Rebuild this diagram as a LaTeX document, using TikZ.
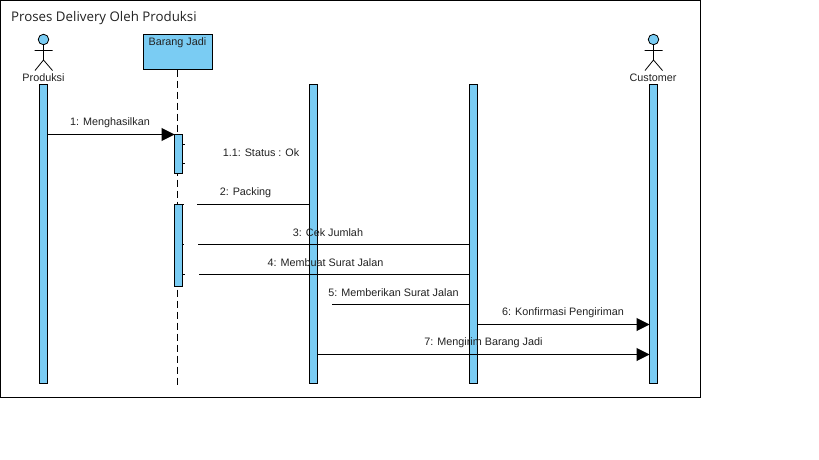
\documentclass[tikz,border=0pt]{standalone}
\usepackage{fontspec}
\setmainfont{Liberation Sans}
\newfontfamily\titlefont{Open Sans}
\usetikzlibrary{arrows.meta}
\definecolor{barblue}{HTML}{7ACCF3}
\definecolor{inkdark}{HTML}{222222}
\tikzset{
  x=1pt,y=-1pt,
  barbox/.style={draw=black,fill=barblue,line width=1pt,rectangle,minimum width=8pt,outer sep=0pt,inner sep=0pt},
  headbox/.style={draw=black,fill=barblue,line width=1pt,rectangle,minimum width=68.5pt,minimum height=35pt,outer sep=0pt,inner sep=0pt},
  lbl/.style={font=\fontsize{10.8}{12}\selectfont,text=inkdark,inner sep=0pt},
  msg/.style={line width=1pt,draw=black},
  msgarrow/.style={msg,-{Triangle[length=13pt,width=13pt,fill=black]}},
  lifeline/.style={line width=1pt,dash pattern=on 7pt off 4pt},
  stick/.style={line width=0.8pt},
  tick/.style={line width=0.8pt},
  headdot/.style={circle,draw=black,fill=barblue,line width=0.8pt,minimum size=10.5pt,inner sep=0pt,outer sep=0pt}
}
\begin{document}
\begin{tikzpicture}
\useasboundingbox (0,0) rectangle (819,460);
\fill[white] (0,0) rectangle (819,460);
% frame
\draw[line width=1pt] (0.5,0.5) rectangle (700.5,397.5);
\node[anchor=west,inner sep=0pt,font=\titlefont\fontsize{13.3}{15}\selectfont,text=inkdark] (title) at (11,18.5) {Proses Delivery Oleh Produksi};

% lifeline of Barang Jadi
\node[headbox] (barang) at (177.75,52) {};
\node[lbl] (barangtxt) at (177.5,42.8) {Barang Jadi};
\coordinate (barangend) at (177.5,385);
\draw[lifeline] (177.5,69.5) -- (barangend);

% bars
\node[barbox,minimum height=299pt] (prod) at (43.5,233.5) {};
\node[barbox,minimum height=39pt] (acta) at (178.5,153.75) {};
\node[barbox,minimum height=82pt] (actb) at (178.5,245) {};
\node[barbox,minimum height=299pt] (third) at (313.5,233.5) {};
\node[barbox,minimum height=299pt] (fourth) at (473.5,233.5) {};
\node[barbox,minimum height=299pt] (cust) at (653.5,233.5) {};

% small marks beside the activations
\draw[tick] (182.5,144.5) -- (185,144.5) (182.5,163.5) -- (184.5,163.5)
  (182.5,204.5) -- (184,204.5) (182.5,244.5) -- (184,244.5) (182.5,274.5) -- (184.5,274.5);

% actors
\node[headdot] (headp) at (43.5,39.5) {};
\draw[stick] (headp.south) -- (43.5,60) -- (35,70.5) (43.5,60) -- (52.5,70.5) (34.5,50.5) -- (52.5,50.5);
\node[lbl] (prodtxt) at (43.5,78) {Produksi};
\node[headdot] (headc) at (653.5,39.5) {};
\draw[stick] (headc.south) -- (653.5,60) -- (645,70.5) (653.5,60) -- (662.5,70.5) (644.5,50.5) -- (662.5,50.5);
\node[lbl] (custtxt) at (653,78) {Customer};

% free ends
\coordinate (f1) at (197,204.5);
\coordinate (f2) at (198,244.5);
\coordinate (f3) at (199,274.5);
\coordinate (f4) at (332,304.5);
\coordinate (r1) at (0,134.5);
\coordinate (r6) at (0,324.5);
\coordinate (r7) at (0,354.5);

% messages
\draw[msgarrow] (prod.east |- r1) -- (acta.west |- r1);
\draw[msg] (f1) -- (third.west |- f1);
\draw[msg] (f2) -- (fourth.west |- f2);
\draw[msg] (f3) -- (fourth.west |- f3);
\draw[msg] (f4) -- (fourth.west |- f4);
\draw[msgarrow] (fourth.east |- r6) -- (cust.west |- r6);
\draw[msgarrow] (third.east |- r7) -- (cust.west |- r7);

% labels
\node[lbl] (l1) at (110,123) {1: Menghasilkan};
\node[lbl] (l11) at (261,153) {1.1: Status : Ok};
\node[lbl] (l2) at (245.5,193) {2: Packing};
\node[lbl] (l3) at (328,233) {3: Cek Jumlah};
\node[lbl] (l4) at (325.5,263) {4: Membuat Surat Jalan};
\node[lbl] (l5) at (393.5,293) {5: Memberikan Surat Jalan};
\node[lbl] (l6) at (563,313) {6: Konfirmasi Pengiriman};
\node[lbl] (l7) at (483.5,343) {7: Mengirim Barang Jadi};
\end{tikzpicture}
\end{document}
